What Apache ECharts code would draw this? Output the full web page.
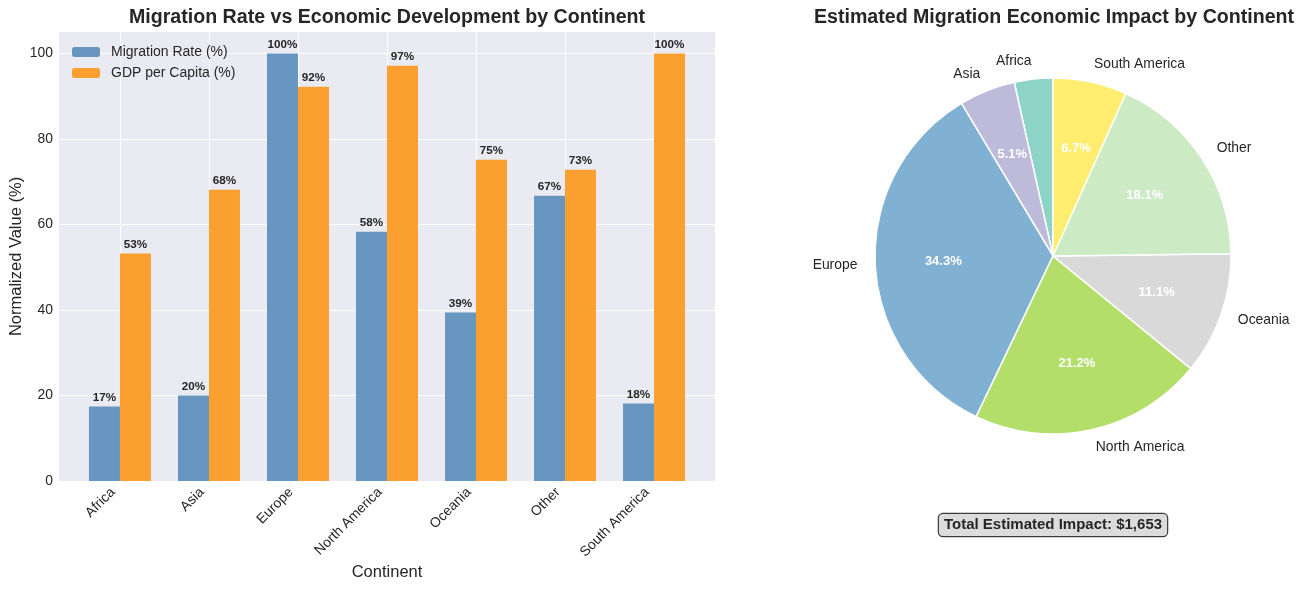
<!DOCTYPE html>
<html>
<head>
<meta charset="utf-8">
<script src="https://cdn.jsdelivr.net/npm/echarts@6/dist/echarts.min.js"></script>
<style>
html,body{margin:0;padding:0;background:#fff;}
#chart{width:1302px;height:590px;}
</style>
</head>
<body>
<div id="chart"></div>
<script>
const categories = ['Africa', 'Asia', 'Europe', 'North America', 'Oceania', 'Other', 'South America'];
const migrationRate = [17.4, 20.0, 100.0, 58.3, 39.4, 66.7, 18.1];
const gdpPerCapita = [53.2, 68.1, 92.2, 97.1, 75.1, 72.8, 100.0];
const yTicks = [0, 20, 40, 60, 80, 100];
const pieLabels = ['Africa', 'Asia', 'Europe', 'North America', 'Oceania', 'Other', 'South America'];
const pieShares = [3.5, 5.1, 34.3, 21.2, 11.1, 18.1, 6.7];
const pieColors = ['#8dd3c7', '#bebada', '#80b1d3', '#b3de69', '#d9d9d9', '#ccebc5', '#ffed6f'];
const totalImpact = 1653;

const FONT = 'Liberation Sans, Arial, sans-serif';
const TXT = '#262626';
const xIdx = categories.map((c, i) => i);

const chart = echarts.init(document.getElementById('chart'));
const pieCenter = [1053, 256];
const pieR = 178;

const pieData = pieLabels.map((n, i) => ({ name: n, value: pieShares[i], itemStyle: { color: pieColors[i] } }));

chart.setOption({
  animation: false,
  textStyle: { fontFamily: FONT },
  graphic: [
    { type: 'text', x: 387, y: 18, style: { text: 'Migration Rate vs Economic Development by Continent', font: 'bold 19.6px ' + FONT, fill: TXT, textAlign: 'center', textVerticalAlign: 'middle' } },
    { type: 'text', x: 1054, y: 18, style: { text: 'Estimated Migration Economic Impact by Continent', font: 'bold 19.6px ' + FONT, fill: TXT, textAlign: 'center', textVerticalAlign: 'middle' } },
    { type: 'text', x: 1053, y: 525, style: { text: 'Total Estimated Impact: $' + totalImpact.toLocaleString('en-US'), font: 'bold 15px ' + FONT, fill: TXT, textAlign: 'center', textVerticalAlign: 'middle', backgroundColor: '#dcdcdc', borderColor: '#3a3a3a', borderWidth: 1.2, borderRadius: 4, padding: [4, 5, 3, 5] } }
  ],
  legend: {
    orient: 'vertical', left: 72, top: 45, padding: 0, itemWidth: 28, itemHeight: 10, itemGap: 7,
    textStyle: { fontSize: 14, color: TXT, fontFamily: FONT, padding: [0, 0, 0, 6] },
    data: ['Migration Rate (%)', 'GDP per Capita (%)']
  },
  grid: { left: 59, top: 32, width: 656, height: 449, show: true, backgroundColor: '#eaeaf2', borderWidth: 0, outerBoundsMode: 'none', containLabel: false },
  xAxis: {
    type: 'value', min: -0.685, max: 6.685,
    name: 'Continent', nameLocation: 'middle', nameGap: 83, nameMoveOverlap: false,
    nameTextStyle: { fontSize: 16.5, color: TXT, fontFamily: FONT },
    axisLine: { show: false },
    axisTick: { show: false, customValues: xIdx },
    axisLabel: { customValues: xIdx, rotate: 45, margin: 2, padding: [0, 10, 0, 0], fontSize: 13.9, color: TXT, fontFamily: FONT, formatter: v => categories[Math.round(v)] },
    splitLine: { show: true, lineStyle: { color: '#ffffff', width: 1 } }
  },
  yAxis: {
    type: 'value', min: 0, max: 105,
    name: 'Normalized Value (%)', nameLocation: 'middle', nameGap: 34, nameMoveOverlap: false,
    nameTextStyle: { fontSize: 16.5, color: TXT, fontFamily: FONT },
    axisLine: { show: false },
    axisTick: { show: false, customValues: yTicks },
    axisLabel: { customValues: yTicks, margin: 6, fontSize: 13.9, color: TXT, fontFamily: FONT },
    splitLine: { show: true, lineStyle: { color: '#ffffff', width: 1 } }
  },
  series: [
    {
      name: 'Migration Rate (%)', type: 'bar', barWidth: 31, barGap: '0%',
      itemStyle: { color: '#6797c0' },
      data: migrationRate.map((v, i) => [i, v]),
      label: { show: true, position: 'top', distance: 3, fontSize: 11.7, fontWeight: 'bold', color: TXT, fontFamily: FONT, formatter: p => Math.round(p.value[1]) + '%' }
    },
    {
      name: 'GDP per Capita (%)', type: 'bar', barWidth: 31, barGap: '0%',
      itemStyle: { color: '#fb9f30' },
      data: gdpPerCapita.map((v, i) => [i, v]),
      label: { show: true, position: 'top', distance: 3, fontSize: 11.7, fontWeight: 'bold', color: TXT, fontFamily: FONT, formatter: p => Math.round(p.value[1]) + '%' }
    },
    {
      type: 'pie', center: pieCenter, radius: [0, pieR], startAngle: 90, clockwise: false,
      avoidLabelOverlap: false,
      itemStyle: { borderColor: '#ffffff', borderWidth: 1.5 },
      label: { show: true, position: 'outside', fontSize: 13.9, color: TXT, fontFamily: FONT, distanceToLabelLine: 0, formatter: '{b}' },
      labelLine: { show: false, length: pieR * 0.1, length2: 0 },
      emphasis: { disabled: true },
      data: pieData
    },
    {
      type: 'pie', center: pieCenter, radius: [0, pieR * 1.2], startAngle: 90, clockwise: false,
      avoidLabelOverlap: false, silent: true,
      itemStyle: { color: 'rgba(0,0,0,0)', borderWidth: 0 },
      label: { show: true, position: 'inside', fontSize: 13, fontWeight: 'bold', color: '#ffffff', fontFamily: FONT, formatter: p => p.value.toFixed(1) + '%' },
      labelLine: { show: false },
      emphasis: { disabled: true },
      data: pieLabels.map((n, i) => ({ name: n, value: pieShares[i] }))
    }
  ]
});
</script>
</body>
</html>
